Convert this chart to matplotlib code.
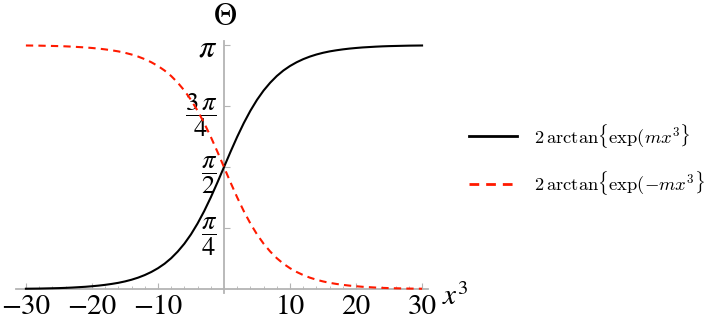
"""Kink profiles Theta(x^3) in Mathematica style."""

import numpy as np
import matplotlib

matplotlib.use("Agg")
import matplotlib.pyplot as plt
from matplotlib.font_manager import FontProperties
from matplotlib.ticker import FixedLocator, MultipleLocator

# x^3 sample positions and curve values
x_vals = list(range(-30, 31))
kink = [
    0.005, 0.006, 0.007, 0.009, 0.011, 0.013, 0.016, 0.020, 0.025, 0.030,
    0.037, 0.045, 0.055, 0.067, 0.081, 0.099, 0.121, 0.148, 0.181, 0.221,
    0.269, 0.327, 0.398, 0.484, 0.585, 0.705, 0.845, 1.004, 1.181, 1.372,
    1.571,
    1.770, 1.961, 2.138, 2.297, 2.437, 2.557, 2.658, 2.744, 2.815, 2.873,
    2.921, 2.961, 2.994, 3.021, 3.043, 3.061, 3.075, 3.087, 3.097, 3.105,
    3.112, 3.117, 3.122, 3.126, 3.129, 3.131, 3.133, 3.135, 3.136, 3.137,
]
antikink = [
    3.137, 3.136, 3.135, 3.133, 3.131, 3.129, 3.126, 3.122, 3.117, 3.112,
    3.105, 3.097, 3.087, 3.075, 3.061, 3.043, 3.021, 2.994, 2.961, 2.921,
    2.873, 2.815, 2.744, 2.658, 2.557, 2.437, 2.297, 2.138, 1.961, 1.770,
    1.571,
    1.372, 1.181, 1.004, 0.845, 0.705, 0.585, 0.484, 0.398, 0.327, 0.269,
    0.221, 0.181, 0.148, 0.121, 0.099, 0.081, 0.067, 0.055, 0.045, 0.037,
    0.030, 0.025, 0.020, 0.016, 0.013, 0.011, 0.009, 0.007, 0.006, 0.005,
]
series_labels = [
    r"$2\,\mathrm{arctan}\{\mathrm{exp}(mx^3\}$",
    r"$2\,\mathrm{arctan}\{\mathrm{exp}(-mx^3\}$",
]
x_ticks = [-30, -20, -10, 10, 20, 30]
y_ticks = [np.pi / 4, np.pi / 2, 3 * np.pi / 4, np.pi]
y_tick_labels = [r"$\dfrac{\pi}{4}$", r"$\dfrac{\pi}{2}$", r"$\dfrac{3\,\pi}{4}$", r"$\pi$"]

plt.rcParams["font.family"] = ["STIXGeneral", "DejaVu Serif"]
plt.rcParams["mathtext.fontset"] = "stix"

axis_gray = "#b4b4b4"

fig = plt.figure(figsize=(7.10, 3.27), dpi=100)
ax = fig.add_axes([16 / 710, 34 / 327, 412 / 710, 252.4 / 327])

ax.plot(x_vals, kink, color="black", lw=1.5, zorder=3, label=series_labels[0])
ax.plot(x_vals, antikink, color="#ff1a00", lw=1.5, dashes=(3.5, 2.5), zorder=3,
        label=series_labels[1])

ax.set_xlim(-31.5, 30.9)
ax.set_ylim(-0.05, 3.2)

# axes crossing at the origin
for side in ("top", "right"):
    ax.spines[side].set_visible(False)
ax.spines["left"].set_position(("data", 0))
ax.spines["bottom"].set_position(("data", 0))
for side in ("left", "bottom"):
    ax.spines[side].set_color(axis_gray)
    ax.spines[side].set_linewidth(1.3)

ax.xaxis.set_major_locator(FixedLocator(x_ticks))
ax.xaxis.set_minor_locator(MultipleLocator(2))
ax.yaxis.set_major_locator(FixedLocator(y_ticks))
ax.set_yticklabels(y_tick_labels)
ax.tick_params(axis="x", which="major", direction="in", length=4, width=0.8,
               color=axis_gray, labelsize=21, pad=4)
ax.tick_params(axis="x", which="minor", direction="in", length=2.5, width=0.6,
               color=axis_gray)
ax.tick_params(axis="y", which="major", direction="in", length=4, width=0.8,
               color=axis_gray, labelsize=19, pad=5)
# the bare pi label is set larger than the fractions
ax.get_yticklabels()[-1].set_fontsize(23)

ax.text(0.2, 3.5, r"$\Theta$", fontsize=23, ha="center", va="center", clip_on=False)
ax.text(33.0, -0.1, r"$x^3$", fontsize=21, ha="left", va="center", clip_on=False)

legend = fig.legend(
    loc="center left",
    bbox_to_anchor=(469 / 710, 1 - 159.5 / 327),
    frameon=False,
    borderpad=0,
    borderaxespad=0,
    handlelength=2.6,
    handletextpad=0.9,
    labelspacing=1.05,
    prop=FontProperties(size=13.4, math_fontfamily="cm"),
)
for handle in legend.legend_handles:
    handle.set_linewidth(2.0)

fig.savefig("out.png", dpi=100)
